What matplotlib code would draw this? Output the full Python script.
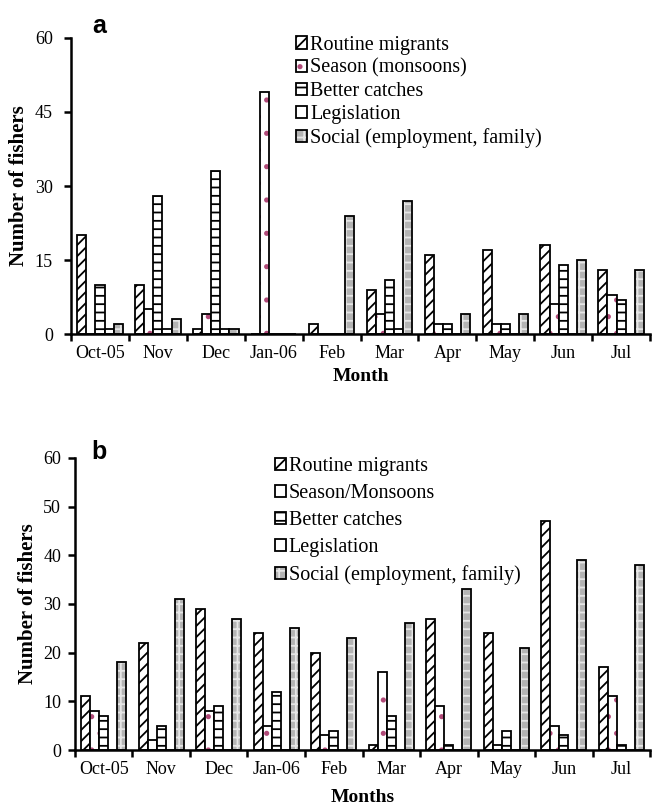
import numpy as np
import matplotlib
matplotlib.use("Agg")
import matplotlib.pyplot as plt
from matplotlib.legend_handler import HandlerTuple

plt.rcParams['font.family'] = ['Liberation Serif', 'DejaVu Serif']
plt.rcParams['hatch.linewidth'] = 1.3

months = ["Oct-05", "Nov", "Dec", "Jan-06", "Feb", "Mar", "Apr", "May", "Jun", "Jul"]

# panel a
labels_a = ["Routine migrants", "Season (monsoons)", "Better catches",
            "Legislation", "Social (employment, family)"]
routine_a = [20, 10, 1, 0, 2, 9, 16, 17, 18, 13]
season_a = [0, 5, 4, 49, 0, 4, 2, 2, 6, 8]
better_a = [10, 28, 33, 0, 0, 11, 2, 2, 14, 7]
legis_a = [1, 1, 1, 0, 0, 1, 0, 0, 0, 0]
social_a = [2, 3, 1, 0, 24, 27, 4, 4, 15, 13]

# panel b
labels_b = ["Routine migrants", "Season/Monsoons", "Better catches",
            "Legislation", "Social (employment, family)"]
routine_b = [11, 22, 29, 24, 20, 1, 27, 24, 47, 17]
season_b = [8, 2, 8, 5, 3, 16, 9, 1, 5, 11]
better_b = [7, 5, 9, 12, 4, 7, 1, 4, 3, 1]
legis_b = [0, 0, 0, 0, 0, 0, 0, 0, 0, 0]
social_b = [18, 31, 27, 25, 23, 26, 33, 21, 39, 38]

# fill, hatch colour, hatch
styles = [("white", "black", "///"),
          ("white", "#b04a78", "."),
          ("white", "black", "--"),
          ("white", "black", ""),
          ("#b4b4b4", "#e6e6e6", "++")]


def draw_panel(ax, series, labels, yticks, xlabel, leg_anchor, spacing, ypad, xpad):
    x = np.arange(len(months))
    w = 0.157
    handles = []
    for i, (vals, (fc, hc, hatch)) in enumerate(zip(series, styles)):
        pos = x + (i - 2) * w
        fill = ax.bar(pos, vals, w, color=fc, edgecolor=hc, hatch=hatch, linewidth=0)
        outline = ax.bar(pos, vals, w, fill=False, edgecolor="black", linewidth=1.3)
        handles.append((fill, outline))

    ax.set_xlim(-0.5, len(months) - 0.5)
    ax.set_ylim(0, yticks[-1])
    ax.set_yticks(yticks)
    ax.set_xticks(np.arange(-0.5, len(months)), [""] * (len(months) + 1))
    ax.set_xticks(x, months, minor=True)
    ax.tick_params(axis="x", which="minor", length=0, pad=8, labelsize=13)
    ax.tick_params(axis="x", which="major", direction="out", length=5, width=1.8)
    ax.tick_params(axis="y", direction="out", length=5, width=1.8, labelsize=13, pad=ypad)
    for s in ["top", "right"]:
        ax.spines[s].set_visible(False)
    for s in ["left", "bottom"]:
        ax.spines[s].set_linewidth(1.8)

    ax.set_ylabel("Number of fishers", fontsize=15, fontweight="bold", labelpad=4)
    ax.set_xlabel(xlabel, fontsize=14, fontweight="bold", labelpad=xpad)

    ax.legend(handles, labels, loc="upper left", bbox_to_anchor=leg_anchor,
              frameon=False, fontsize=14.5, handlelength=0.55, handleheight=0.55,
              handletextpad=0.15, labelspacing=spacing, borderaxespad=0,
              handler_map={tuple: HandlerTuple(ndivide=1)})


fig = plt.figure(figsize=(6.52, 8.07), dpi=100)
ax_a = fig.add_axes([0.109, 0.586, 0.888, 0.367])
ax_b = fig.add_axes([0.115, 0.0706, 0.882, 0.362])

draw_panel(ax_a, [routine_a, season_a, better_a, legis_a, social_a], labels_a,
           [0, 15, 30, 45, 60], "Month", (0.375, 1.035), 0.2, 8, 4)
draw_panel(ax_b, [routine_b, season_b, better_b, legis_b, social_b], labels_b,
           [0, 10, 20, 30, 40, 50, 60], "Months", (0.333, 1.03), 0.4, 5, 8)

fig.text(0.141, 0.959, "a", fontsize=18, fontweight="bold", family="Liberation Sans")
fig.text(0.140, 0.431, "b", fontsize=18, fontweight="bold", family="Liberation Sans")

fig.savefig("out.png", dpi=100)
